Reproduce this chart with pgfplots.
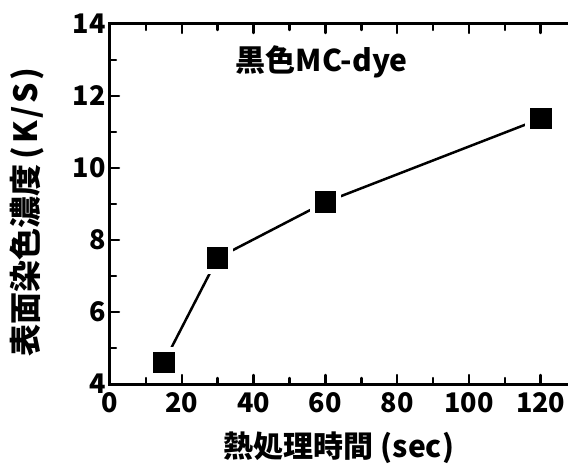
\documentclass[border=0pt]{standalone}
\usepackage{fontspec}
\setmainfont{Noto Sans CJK JP}
\usepackage{pgfplots}
\pgfplotsset{compat=1.18}
\usetikzlibrary{calc}
\begin{document}
\begin{tikzpicture}
\begin{axis}[
  scale only axis, width=458pt, height=360pt,
  xmin=0, xmax=127.6, ymin=4, ymax=14,
  axis x line=box, axis y line=left,
  axis line style={-, line width=3pt, line cap=rect},
  every outer y axis line/.append style={-},
  xtick={0,20,...,120}, minor x tick num=1,
  ytick={4,6,...,14}, minor y tick num=1,
  tick align=inside, major tick length=9pt, minor tick length=6pt,
  every tick/.style={line width=2.5pt, black, line cap=round},
  /pgf/number format/assume math mode=true,
  tick label style={font=\bfseries\fontsize{27}{27}\selectfont},
  xticklabel style={yshift=-5pt},
  yticklabel style={xshift=-1pt},
  xlabel={熱処理時間 (sec)},
  ylabel={表面染色濃度\hspace{0.15em}{\addfontfeature{LetterSpace=8}(K/S)}},
  xlabel style={font=\bfseries\fontsize{30}{30}\selectfont, at={(rel axis cs:0.5,0)}, anchor=center, yshift=-64pt},
  ylabel style={font=\bfseries\fontsize{32}{32}\selectfont, at={(rel axis cs:0,0.5)}, anchor=center, yshift=83pt, xshift=-8pt},
  clip=false,
]
\addplot[black, line width=2.5pt,
  mark=square*, mark size=13.3pt,
  mark options={draw=white, fill=black, line width=5pt, solid}]
  coordinates {(15,4.6) (30,7.5) (60,9.05) (120,11.37)};
\node[font=\bfseries\fontsize{30}{30}\selectfont] at (axis cs:59,12.95) {黒色MC-dye};
\coordinate (bl) at (rel axis cs:0,0);
\coordinate (tr) at (rel axis cs:1,1);
\end{axis}
\pgfresetboundingbox
\path[use as bounding box] ($(bl)+(-110pt,-82pt)$) rectangle ($(tr)+(0pt,24pt)$);
\end{tikzpicture}
\end{document}
